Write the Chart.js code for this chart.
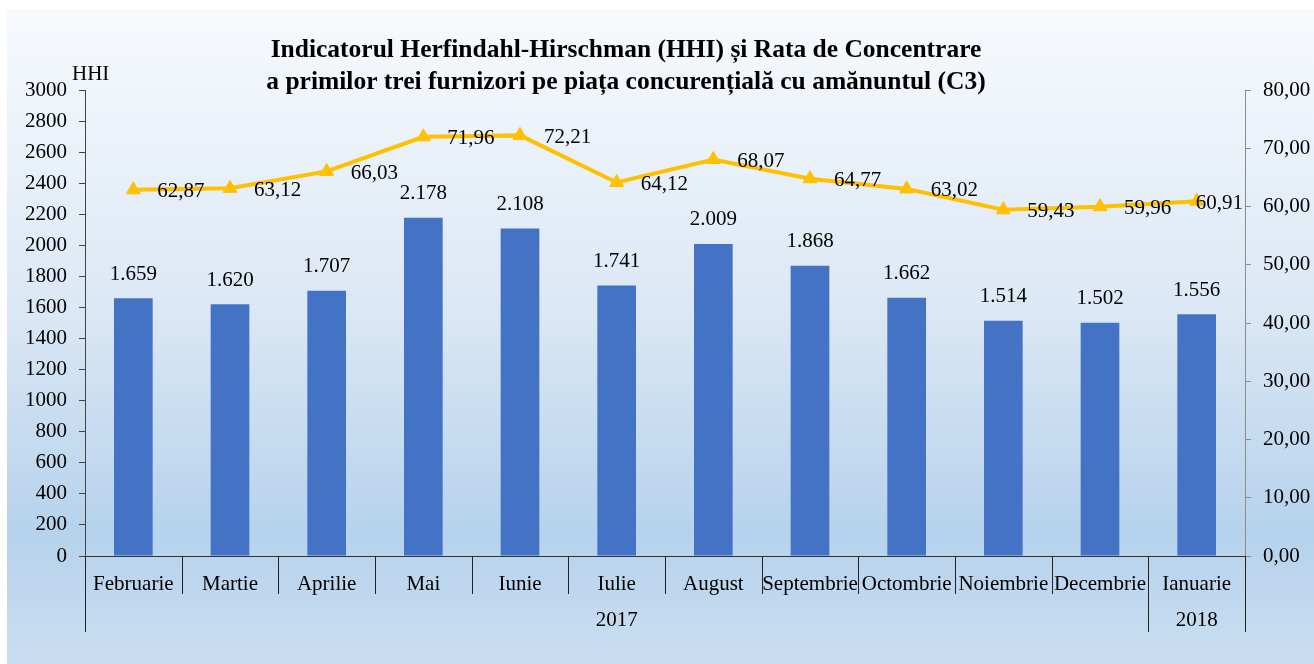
<!DOCTYPE html>
<html>
<head>
<meta charset="utf-8">
<script src="https://cdn.jsdelivr.net/npm/chart.js@4.4.1/dist/chart.umd.min.js"></script>
<style>
  html, body { margin: 0; padding: 0; background: #fff; overflow: hidden; }
  #wrap { width: 1314px; height: 664px; position: relative; }
</style>
</head>
<body>
<div id="wrap"><canvas id="hhiChart"></canvas></div>
<script>
// lunile si valorile
var months = ["Februarie", "Martie", "Aprilie", "Mai", "Iunie", "Iulie", "August", "Septembrie", "Octombrie", "Noiembrie", "Decembrie", "Ianuarie"];
var hhiValues = [1659, 1620, 1707, 2178, 2108, 1741, 2009, 1868, 1662, 1514, 1502, 1556];
var c3Values = [62.87, 63.12, 66.03, 71.96, 72.21, 64.12, 68.07, 64.77, 63.02, 59.43, 59.96, 60.91];
var yearGroups = [{ label: "2017", from: 0, to: 10 }, { label: "2018", from: 11, to: 11 }];
var titleLines = ["Indicatorul Herfindahl-Hirschman (HHI) și Rata de Concentrare", "a primilor trei furnizori pe piața concurențială cu amănuntul (C3)"];

var serif = "'Liberation Serif', 'Times New Roman', serif";

function thousands(v) {
	return String(v).replace(/\B(?=(\d{3})+(?!\d))/g, ".");
}
function comma2(v) {
	return Number(v).toFixed(2).replace(".", ",");
}

var decorPlugin = {
	id: "decor",
	beforeDraw: function (chart) {
		var ctx = chart.ctx;
		ctx.save();
		ctx.fillStyle = "#ffffff";
		ctx.fillRect(0, 0, chart.width, chart.height);
		var g = ctx.createLinearGradient(0, 9, 0, chart.height);
		g.addColorStop(0, "#f7fafd");
		g.addColorStop(0.45, "#dce8f5");
		g.addColorStop(0.8, "#b6d2ec");
		g.addColorStop(1, "#cadef1");
		ctx.fillStyle = g;
		ctx.fillRect(7, 9, chart.width - 7, chart.height - 9);
		ctx.restore();
	},
	afterDatasetsDraw: function (chart) {
		var ctx = chart.ctx;
		var area = chart.chartArea;
		ctx.save();
		ctx.fillStyle = "#000";
		ctx.font = "21px " + serif;
		ctx.textBaseline = "middle";

		// etichete bare
		ctx.textAlign = "center";
		chart.getDatasetMeta(0).data.forEach(function (bar, i) {
			ctx.fillText(thousands(hhiValues[i]), bar.x, bar.y - 24);
		});

		// etichete linie
		ctx.textAlign = "left";
		chart.getDatasetMeta(1).data.forEach(function (pt, i) {
			var txt = comma2(c3Values[i]);
			var w = ctx.measureText(txt).width;
			var x = pt.x + 24;
			if (x + w > area.right - 2) x = area.right - 2 - w;
			ctx.fillText(txt, x, pt.y + 2);
		});
		ctx.restore();
	},
	afterDraw: function (chart) {
		var ctx = chart.ctx;
		var xs = chart.scales.x;
		var area = chart.chartArea;
		var step = (area.right - area.left) / months.length;
		ctx.save();

		// separatori categorii
		ctx.strokeStyle = "#222";
		ctx.lineWidth = 1;
		for (var i = 0; i <= months.length; i++) {
			var bx = Math.round(area.left + i * step) + 0.5;
			var isEdge = yearGroups.some(function (g) { return g.from === i || g.to + 1 === i; });
			ctx.beginPath();
			ctx.moveTo(bx, area.bottom);
			ctx.lineTo(bx, isEdge ? area.bottom + 76 : area.bottom + 38);
			ctx.stroke();
		}

		// ani
		ctx.fillStyle = "#000";
		ctx.font = "21px " + serif;
		ctx.textAlign = "center";
		ctx.textBaseline = "middle";
		yearGroups.forEach(function (g) {
			var cx = (xs.getPixelForValue(g.from) + xs.getPixelForValue(g.to)) / 2;
			ctx.fillText(g.label, cx, area.bottom + 64);
		});

		// unitate axa
		ctx.textAlign = "left";
		ctx.fillText("HHI", 72, 74);

		// titlu
		ctx.font = "bold 25.5px " + serif;
		ctx.textAlign = "center";
		ctx.fillText(titleLines[0], 626, 50);
		ctx.fillText(titleLines[1], 626, 82);
		ctx.restore();
	}
};

var ctxChart = document.getElementById("hhiChart");
var hhiChart = new Chart(ctxChart, {
	type: "bar",
	data: {
		labels: months,
		datasets: [
			{
				type: "bar",
				label: "HHI",
				data: hhiValues,
				backgroundColor: "#4472c4",
				borderWidth: 0,
				barPercentage: 0.4,
				categoryPercentage: 1,
				yAxisID: "y",
				order: 2,
			},
			{
				type: "line",
				label: "C3",
				data: c3Values,
				borderColor: "#ffc000",
				backgroundColor: "#ffc000",
				borderWidth: 4,
				pointStyle: "triangle",
				pointRadius: 8,
				pointHoverRadius: 8,
				pointBorderWidth: 1,
				tension: 0,
				yAxisID: "y1",
				order: 1,
			},
		],
	},
	options: {
		responsive: true,
		maintainAspectRatio: false,
		animation: false,
		events: [],
		layout: {
			autoPadding: false,
			padding: { top: 90, left: 0, right: 0, bottom: 0 },
		},
		plugins: {
			legend: { display: false },
			title: { display: false },
			tooltip: { enabled: false },
		},
		scales: {
			x: {
				offset: true,
				grid: { display: false, drawTicks: false },
				border: { display: true, color: "#333", width: 1 },
				ticks: {
					color: "#000",
					font: { family: serif, size: 21 },
					padding: 16,
					maxRotation: 0,
					autoSkip: false,
				},
				afterFit: function (scale) { scale.height = 108; },
			},
			y: {
				position: "left",
				min: 0,
				max: 3000,
				grid: { drawOnChartArea: false, drawTicks: true, tickLength: 6, color: "#444" },
				border: { display: true, color: "#444", width: 1 },
				ticks: {
					stepSize: 200,
					color: "#000",
					font: { family: serif, size: 21 },
					padding: 12,
					callback: function (v) { return String(v); },
				},
				afterFit: function (scale) { scale.width = 85; },
			},
			y1: {
				position: "right",
				min: 0,
				max: 80,
				grid: { drawOnChartArea: false, drawTicks: true, tickLength: 6, color: "#8c8c8c" },
				border: { display: true, color: "#8c8c8c", width: 1 },
				ticks: {
					stepSize: 10,
					color: "#000",
					font: { family: serif, size: 21 },
					padding: 12,
					callback: function (v) { return comma2(v); },
				},
				afterFit: function (scale) { scale.width = 69; },
			},
		},
	},
	plugins: [decorPlugin],
});
</script>
</body>
</html>
